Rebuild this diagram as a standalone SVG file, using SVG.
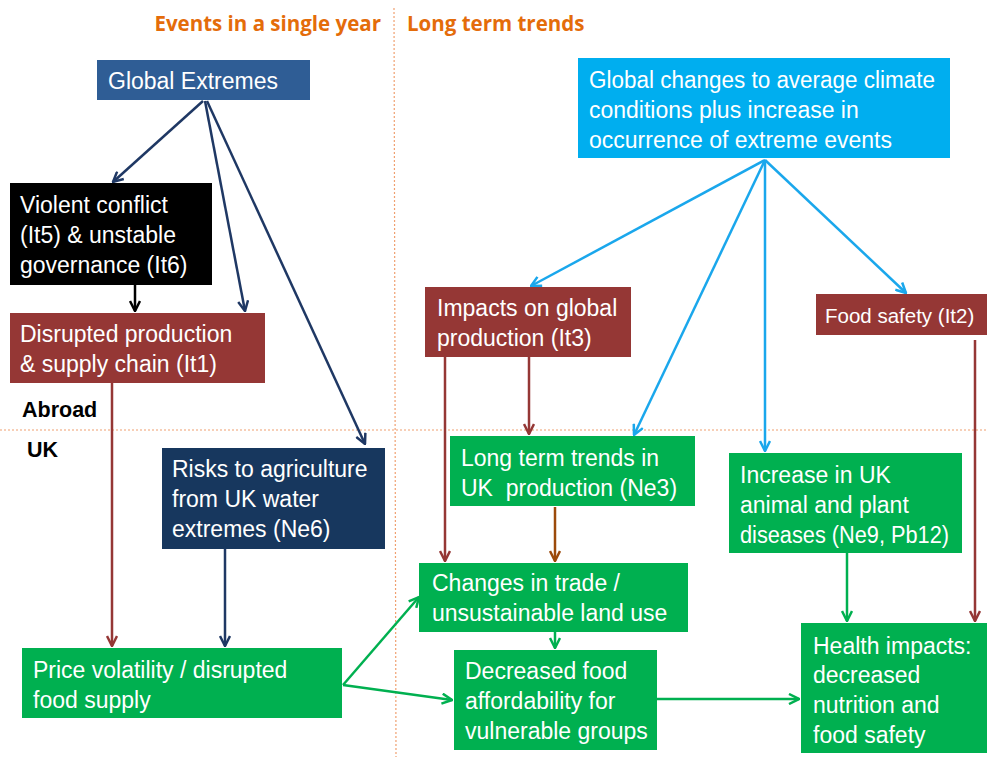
<svg xmlns="http://www.w3.org/2000/svg" width="987" height="757" viewBox="0 0 987 757">
<style>
.t{font-family:"Liberation Sans","Open Sans",sans-serif;font-size:23px;fill:#fff}
.h{font-family:"Open Sans","Liberation Sans",sans-serif;font-size:20.5px;font-weight:bold;fill:#E46C0A}
.lb{font-family:"Liberation Sans",sans-serif;font-size:21.5px;font-weight:bold;fill:#000}
.c{fill:none;stroke-width:2.5}
.dot{stroke:#F0A070;stroke-width:1.2;stroke-dasharray:2 2;fill:none}
</style>
<defs>
<marker id="mNavy" viewBox="0 0 12 12" refX="11" refY="6" markerWidth="12" markerHeight="12" markerUnits="userSpaceOnUse" orient="auto"><polyline points="1,1 11,6 1,11" fill="none" stroke="#1F3864" stroke-width="2.5"/></marker>
<marker id="mBlack" viewBox="0 0 12 12" refX="11" refY="6" markerWidth="12" markerHeight="12" markerUnits="userSpaceOnUse" orient="auto"><polyline points="1,1 11,6 1,11" fill="none" stroke="#000" stroke-width="2.5"/></marker>
<marker id="mRed" viewBox="0 0 12 12" refX="11" refY="6" markerWidth="12" markerHeight="12" markerUnits="userSpaceOnUse" orient="auto"><polyline points="1,1 11,6 1,11" fill="none" stroke="#953735" stroke-width="2.5"/></marker>
<marker id="mBlue" viewBox="0 0 12 12" refX="11" refY="6" markerWidth="12" markerHeight="12" markerUnits="userSpaceOnUse" orient="auto"><polyline points="1,1 11,6 1,11" fill="none" stroke="#1AA7EC" stroke-width="2.5"/></marker>
<marker id="mGreen" viewBox="0 0 12 12" refX="11" refY="6" markerWidth="12" markerHeight="12" markerUnits="userSpaceOnUse" orient="auto"><polyline points="1,1 11,6 1,11" fill="none" stroke="#00B050" stroke-width="2.5"/></marker>
<marker id="mBrown" viewBox="0 0 12 12" refX="11" refY="6" markerWidth="12" markerHeight="12" markerUnits="userSpaceOnUse" orient="auto"><polyline points="1,1 11,6 1,11" fill="none" stroke="#9C4A0A" stroke-width="2.5"/></marker>
</defs>
<rect width="987" height="757" fill="#fff"/>
<g id="guides">
<line class="dot" x1="394" y1="8" x2="396" y2="757"/>
<line class="dot" x1="0" y1="430" x2="987" y2="430"/>
<text class="h" x="381" y="31" text-anchor="end">Events in a single year</text>
<text class="h" x="407" y="31">Long term trends</text>
<text class="lb" x="22" y="417">Abroad</text>
<text class="lb" x="27" y="457">UK</text>
</g>
<g id="connectors">
<line class="c" stroke="#1F3864" x1="203" y1="101" x2="113" y2="182" marker-end="url(#mNavy)"/>
<line class="c" stroke="#1F3864" x1="205" y1="101" x2="245" y2="311" marker-end="url(#mNavy)"/>
<line class="c" stroke="#1F3864" x1="207" y1="101" x2="365" y2="444" marker-end="url(#mNavy)"/>
<line class="c" stroke="#000" x1="135" y1="285" x2="135" y2="311" marker-end="url(#mBlack)"/>
<line class="c" stroke="#953735" x1="112" y1="383" x2="112" y2="646" marker-end="url(#mRed)"/>
<line class="c" stroke="#1F3864" x1="225" y1="549" x2="225" y2="646" marker-end="url(#mNavy)"/>
<line class="c" stroke="#00B050" x1="343" y1="685" x2="419" y2="597" marker-end="url(#mGreen)"/>
<line class="c" stroke="#00B050" x1="343" y1="685" x2="452" y2="700" marker-end="url(#mGreen)"/>
<line class="c" stroke="#1AA7EC" x1="765" y1="160" x2="531" y2="286" marker-end="url(#mBlue)"/>
<line class="c" stroke="#1AA7EC" x1="765" y1="160" x2="634" y2="435" marker-end="url(#mBlue)"/>
<line class="c" stroke="#1AA7EC" x1="765" y1="160" x2="765" y2="451" marker-end="url(#mBlue)"/>
<line class="c" stroke="#1AA7EC" x1="765" y1="160" x2="906" y2="293" marker-end="url(#mBlue)"/>
<line class="c" stroke="#953735" x1="445" y1="357" x2="445" y2="561" marker-end="url(#mRed)"/>
<line class="c" stroke="#953735" x1="529" y1="357" x2="529" y2="434" marker-end="url(#mRed)"/>
<line class="c" stroke="#9C4A0A" x1="555" y1="507" x2="555" y2="561" marker-end="url(#mBrown)"/>
<line class="c" stroke="#00B050" x1="555" y1="632" x2="555" y2="648" marker-end="url(#mGreen)"/>
<line class="c" stroke="#00B050" x1="657" y1="699" x2="799" y2="699" marker-end="url(#mGreen)"/>
<line class="c" stroke="#00B050" x1="847" y1="553" x2="847" y2="621" marker-end="url(#mGreen)"/>
<line class="c" stroke="#953735" x1="975" y1="340" x2="975" y2="621" marker-end="url(#mRed)"/>
</g>
<g id="global-extremes">
<rect x="97" y="60" width="213" height="40" fill="#2F5D95"/>
<text class="t" x="108" y="89">Global Extremes</text>
</g>
<g id="global-changes">
<rect x="578" y="58" width="372" height="100" fill="#00AEEF"/>
<text class="t" x="589" y="88" textLength="346" lengthAdjust="spacingAndGlyphs">Global changes to average climate</text>
<text class="t" x="589" y="118">conditions plus increase in</text>
<text class="t" x="589" y="148">occurrence of extreme events</text>
</g>
<g id="violent-conflict">
<rect x="10" y="183" width="202" height="102" fill="#000"/>
<text class="t" x="20" y="213">Violent conflict</text>
<text class="t" x="20" y="243">(It5) &amp; unstable</text>
<text class="t" x="20" y="273">governance (It6)</text>
</g>
<g id="disrupted-production">
<rect x="10" y="313" width="255" height="70" fill="#953735"/>
<text class="t" x="20" y="342">Disrupted production</text>
<text class="t" x="20" y="372">&amp; supply chain (It1)</text>
</g>
<g id="risks-agriculture">
<rect x="162" y="448" width="223" height="101" fill="#17375E"/>
<text class="t" x="172" y="477">Risks to agriculture</text>
<text class="t" x="172" y="507">from UK water</text>
<text class="t" x="172" y="537">extremes (Ne6)</text>
</g>
<g id="price-volatility">
<rect x="22" y="648" width="320" height="70" fill="#00B050"/>
<text class="t" x="33" y="678">Price volatility / disrupted</text>
<text class="t" x="33" y="708">food supply</text>
</g>
<g id="impacts-global">
<rect x="425" y="287" width="206" height="70" fill="#953735"/>
<text class="t" x="437" y="316">Impacts on global</text>
<text class="t" x="437" y="346">production (It3)</text>
</g>
<g id="food-safety">
<rect x="816" y="294" width="171" height="41" fill="#953735"/>
<text class="t" x="825" y="323" style="font-size:20.5px">Food safety (It2)</text>
</g>
<g id="long-term-uk">
<rect x="450" y="436" width="245" height="70" fill="#00B050"/>
<text class="t" x="461" y="466">Long term trends in</text>
<text class="t" x="461" y="496">UK&#160; production (Ne3)</text>
</g>
<g id="increase-diseases">
<rect x="729" y="453" width="233" height="100" fill="#00B050"/>
<text class="t" x="740" y="483">Increase in UK</text>
<text class="t" x="740" y="513">animal and plant</text>
<text class="t" x="740" y="543" textLength="209" lengthAdjust="spacingAndGlyphs">diseases (Ne9, Pb12)</text>
</g>
<g id="changes-trade">
<rect x="419" y="563" width="269" height="69" fill="#00B050"/>
<text class="t" x="432" y="591">Changes in trade /</text>
<text class="t" x="432" y="621">unsustainable land use</text>
</g>
<g id="decreased-affordability">
<rect x="454" y="650" width="203" height="100" fill="#00B050"/>
<text class="t" x="465" y="679">Decreased food</text>
<text class="t" x="465" y="709">affordability for</text>
<text class="t" x="465" y="739">vulnerable groups</text>
</g>
<g id="health-impacts">
<rect x="801" y="623" width="186" height="130" fill="#00B050"/>
<text class="t" x="813" y="654">Health impacts:</text>
<text class="t" x="813" y="683">decreased</text>
<text class="t" x="813" y="713">nutrition and</text>
<text class="t" x="813" y="743">food safety</text>
</g>
</svg>
